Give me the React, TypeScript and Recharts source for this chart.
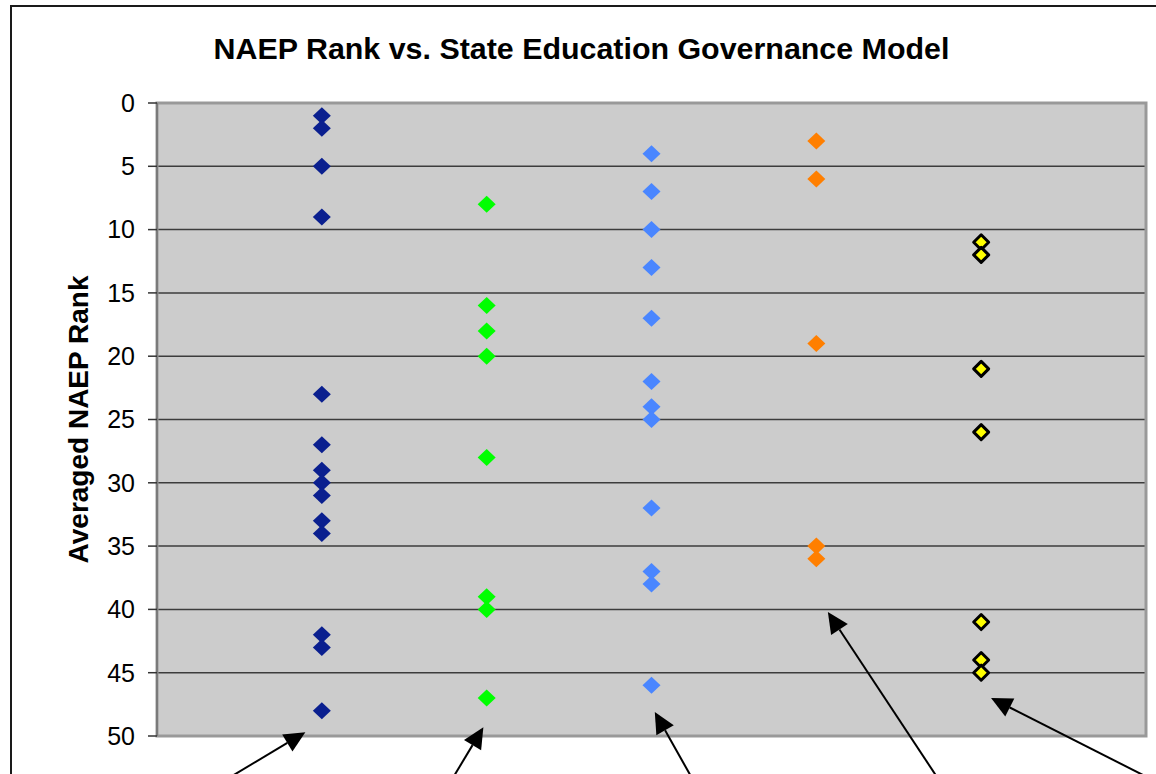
import {
  CartesianGrid,
  ReferenceArea,
  ReferenceLine,
  Scatter,
  ScatterChart,
  XAxis,
  YAxis,
} from 'recharts';

const chartTitle = 'NAEP Rank vs. State Education Governance Model';
const yAxisTitle = 'Averaged NAEP Rank';
const rankTicks = [0, 5, 10, 15, 20, 25, 30, 35, 40, 45, 50];

// governance model columns (x position) and the state ranks in each
const modelPositions = [1, 2, 3, 4, 5];
const model1Ranks = [1, 2, 5, 9, 23, 27, 29, 30, 31, 33, 34, 42, 43, 48];
const model2Ranks = [8, 16, 18, 20, 28, 39, 40, 47];
const model3Ranks = [4, 7, 10, 13, 17, 22, 24, 25, 32, 37, 38, 46];
const model4Ranks = [3, 6, 19, 35, 36];
const model5Ranks = [11, 12, 21, 26, 41, 44, 45];

// annotation arrows, in chart units: tail (below the plot) -> tip
const arrowTailX = [0.45, 1.8, 3.24, 4.73, 6.0];
const arrowTailY = [53.2, 53.2, 53.2, 53.2, 53.2];
const arrowTipX = [0.9, 1.98, 3.02, 4.07, 5.06];
const arrowTipY = [49.7, 49.3, 48.1, 40.2, 47.0];

const font = 'Arial, "Liberation Sans", Helvetica, sans-serif';

const toPoints = (x: number, ranks: number[]) => ranks.map((rank) => ({ x, rank }));

const series = [
  { name: 'Model 1', ranks: model1Ranks, fill: '#0a1f8f', stroke: 'none' },
  { name: 'Model 2', ranks: model2Ranks, fill: '#00ff00', stroke: 'none' },
  { name: 'Model 3', ranks: model3Ranks, fill: '#4a86ff', stroke: 'none' },
  { name: 'Model 4', ranks: model4Ranks, fill: '#ff7f00', stroke: 'none' },
  { name: 'Model 5', ranks: model5Ranks, fill: '#ffff00', stroke: '#000000' },
];

function Diamond(props: any) {
  const { cx, cy, fill, stroke } = props;
  if (cx == null || cy == null) return null;
  const outlined = stroke && stroke !== 'none';
  const w = outlined ? 7.5 : 9;
  const h = outlined ? 7.5 : 8.5;
  return (
    <polygon
      points={`${cx},${cy - h} ${cx + w},${cy} ${cx},${cy + h} ${cx - w},${cy}`}
      fill={fill}
      stroke={outlined ? stroke : 'none'}
      strokeWidth={outlined ? 3 : 0}
      strokeLinejoin="round"
    />
  );
}

function Arrow(props: any) {
  const { x1, y1, x2, y2 } = props;
  const ang = Math.atan2(y2 - y1, x2 - x1);
  const len = 21;
  const half = 10;
  const bx = x2 - len * Math.cos(ang);
  const by = y2 - len * Math.sin(ang);
  const px = -Math.sin(ang) * half;
  const py = Math.cos(ang) * half;
  return (
    <g>
      <line x1={x1} y1={y1} x2={bx} y2={by} stroke="#000" strokeWidth={2} />
      <polygon points={`${x2},${y2} ${bx + px},${by + py} ${bx - px},${by - py}`} fill="#000" />
    </g>
  );
}

function YTitle(props: any) {
  const { viewBox } = props;
  const x = viewBox.x + 66;
  const y = viewBox.y + viewBox.height / 2;
  return (
    <text
      x={x}
      y={y}
      transform={`rotate(-90 ${x} ${y})`}
      textAnchor="middle"
      dominantBaseline="central"
      fontFamily={font}
      fontWeight="bold"
      fontSize={28}
      fill="#000"
    >
      {yAxisTitle}
    </text>
  );
}

export default function App() {
  return (
    <div style={{ position: 'fixed', inset: 0, overflow: 'hidden', background: '#fff' }}>
      <div
        style={{
          position: 'absolute',
          left: 10,
          top: 5,
          width: 1200,
          height: 820,
          border: '2px solid #1a1a1a',
        }}
      >
        <div
          style={{
            position: 'absolute',
            left: 0,
            top: 26,
            width: 1139,
            textAlign: 'center',
            fontFamily: font,
            fontWeight: 'bold',
            fontSize: 30.4,
            lineHeight: '30px',
            color: '#000',
          }}
        >
          {chartTitle}
        </div>
        <ScatterChart width={1200} height={820} margin={{ top: 96, right: 66, bottom: 91, left: 0 }}>
          <CartesianGrid
            horizontal
            vertical={false}
            fill="#cccccc"
            stroke="#3c3c3c"
            strokeWidth={1.5}
            fillOpacity={1}
          />
          <XAxis type="number" dataKey="x" domain={[0, 6]} hide />
          <YAxis
            type="number"
            dataKey="rank"
            domain={[0, 50]}
            ticks={rankTicks}
            interval={0}
            reversed
            width={145}
            tickSize={9}
            tickMargin={13}
            tick={{ fontFamily: font, fontSize: 25, fill: '#000' }}
            tickLine={{ stroke: '#333', strokeWidth: 1.5 }}
            axisLine={{ stroke: '#7a7a7a', strokeWidth: 2 }}
            label={<YTitle />}
          />
          <ReferenceArea
            x1={0}
            x2={6}
            y1={0}
            y2={50}
            fill="none"
            stroke="#999999"
            strokeWidth={3}
            ifOverflow="visible"
          />
          {series.map((s, i) => (
            <Scatter
              key={s.name}
              name={s.name}
              data={toPoints(modelPositions[i], s.ranks)}
              fill={s.fill}
              stroke={s.stroke}
              shape={<Diamond />}
              isAnimationActive={false}
            />
          ))}
          {arrowTipX.map((tipX, i) => (
            <ReferenceLine
              key={`arrow-${i}`}
              segment={[
                { x: arrowTailX[i], y: arrowTailY[i] },
                { x: tipX, y: arrowTipY[i] },
              ]}
              ifOverflow="visible"
              shape={<Arrow />}
            />
          ))}
        </ScatterChart>
      </div>
    </div>
  );
}
